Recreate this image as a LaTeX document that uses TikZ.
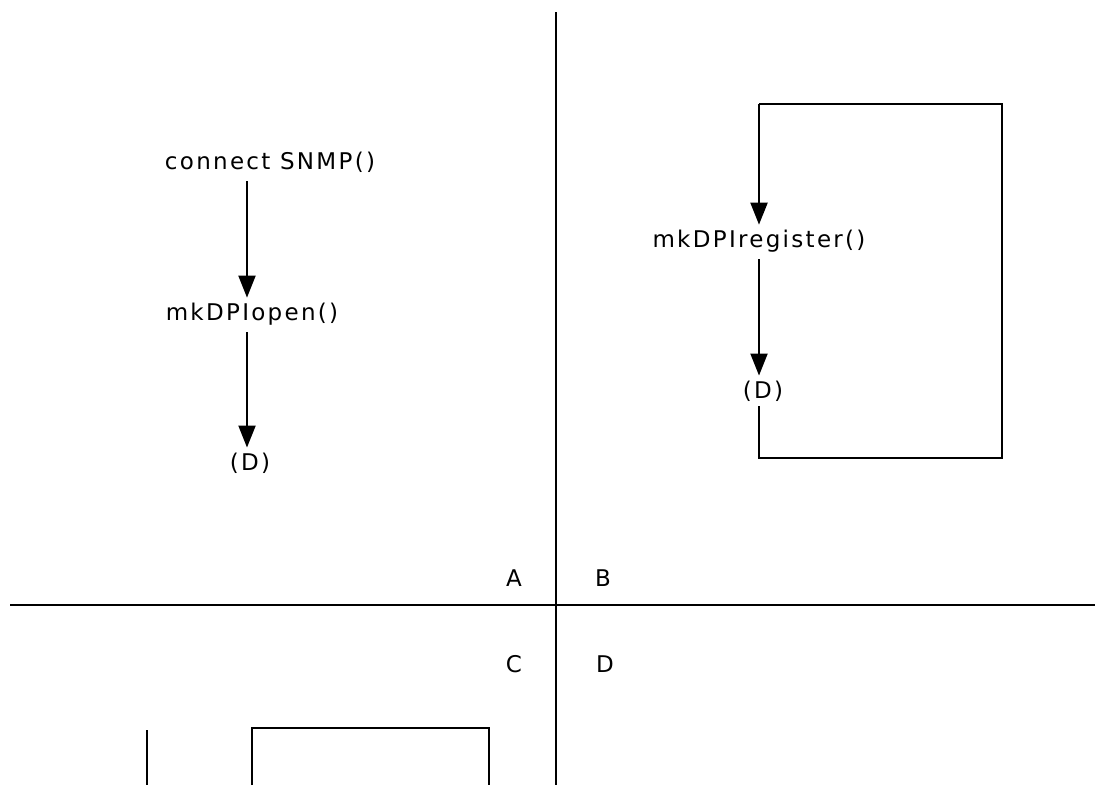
\documentclass[tikz,border=0pt]{standalone}
\usepackage{fontspec}
\newfontfamily\labfont[LetterSpace=10]{DejaVu Sans}
\usetikzlibrary{arrows.meta}
\tikzset{
  lab/.style={font=\labfont\fontsize{23}{25}\selectfont, inner sep=5pt, anchor=center},
  ln/.style={line width=2pt, line cap=butt},
  arr/.style={ln, -{Triangle[width=17pt,length=22pt]}},
}
\begin{document}
\begin{tikzpicture}[x=1pt,y=-1pt]
\useasboundingbox (0,0) rectangle (1095,785);
% quadrant lines
\coordinate (vt) at (556,12);
\coordinate (vb) at (556,785);
\coordinate (hl) at (10,605);
\coordinate (hr) at (1095,605);
\draw[ln] (vt) -- (vb);
\draw[ln] (hl) -- (hr);
\node[lab] (qa) at (514,578) {A};
\node[lab] (qb) at (603,578) {B};
\node[lab] (qc) at (514,664) {C};
\node[lab] (qd) at (605,664) {D};
% left flow
\coordinate (colL) at (247,0);
\node[lab] (conn) at (270,162) {connect SNMP()};
\node[lab] (open) at (252,314) {mkDPIopen()};
\node[lab] (d1) at (250,463) {(D)};
\draw[arr] (conn.south -| colL) ++(0,4) -- (open.north -| colL);
\draw[arr] (open.south -| colL) ++(0,2) -- (d1.north -| colL);
% right flow
\coordinate (colR) at (759,0);
\node[lab] (reg) at (759,241) {mkDPIregister()};
\node[lab] (d2) at (763,391) {(D)};
\coordinate (lb) at (759,458);
\coordinate (rb) at (1002,458);
\coordinate (rt) at (1002,104);
\coordinate (lt) at (759,104);
\draw[arr] (lt) -- (reg.north -| colR);
\draw[arr] (reg.south -| colR) ++(0,2) -- (d2.north -| colR);
\draw[ln] (d2.south -| colR) -- (lb) -- (rb) -- (rt) -- (lt);
% bottom partial shapes
\coordinate (bl1) at (147,730);
\coordinate (bl2) at (147,785);
\draw[ln] (bl1) -- (bl2);
\coordinate (r1) at (252,785);
\coordinate (r2) at (252,728);
\coordinate (r3) at (489,728);
\coordinate (r4) at (489,785);
\draw[ln] (r1) -- (r2) -- (r3) -- (r4);
\end{tikzpicture}
\end{document}
